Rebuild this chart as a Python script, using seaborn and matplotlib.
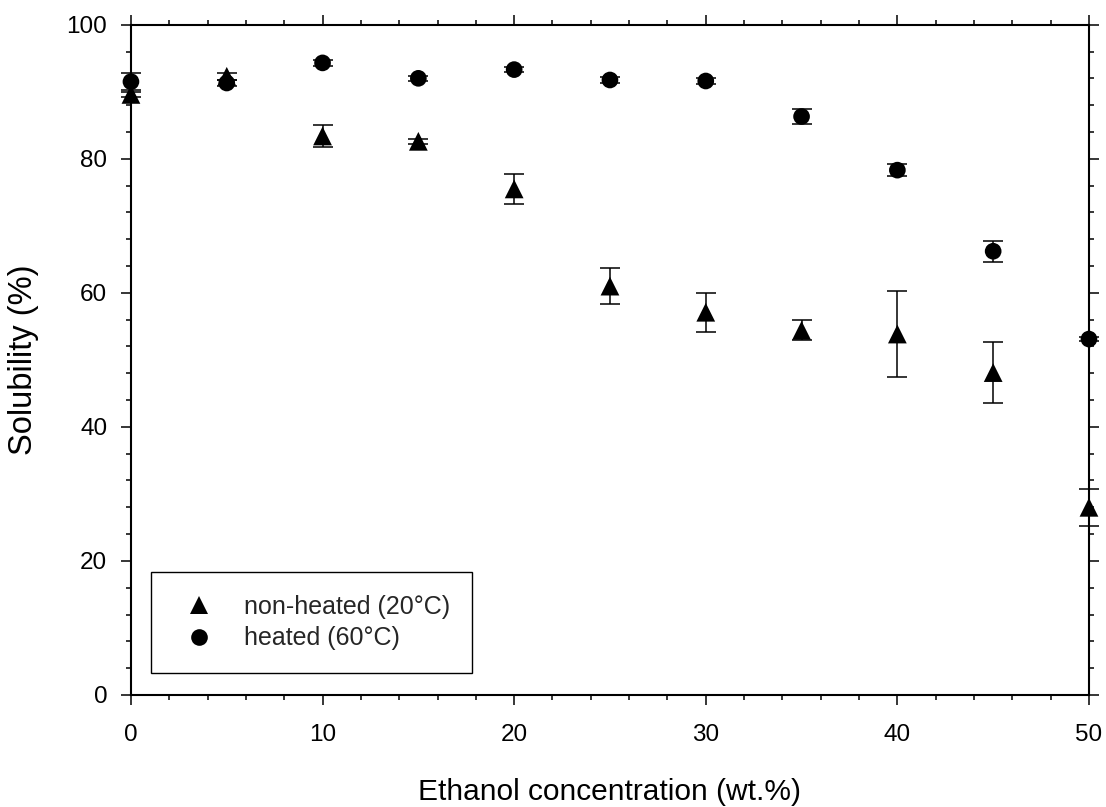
import matplotlib
matplotlib.use("Agg")
import matplotlib.pyplot as plt
from matplotlib.ticker import MultipleLocator
from matplotlib.lines import Line2D
import seaborn as sns
import pandas as pd

# ---- data ----
conc = [0, 5, 10, 15, 20, 25, 30, 35, 40, 45, 50]
nonheated = [89.6, 92.3, 83.4, 82.6, 75.5, 61.0, 57.1, 54.4, 53.85, 48.1, 28.0]
nonheated_err = [0.4, 0.5, 1.6, 0.4, 2.2, 2.7, 2.9, 1.5, 6.35, 4.6, 2.8]
heated = [91.5, 91.3, 94.3, 92.0, 93.3, 91.75, 91.6, 86.3, 78.3, 66.2, 53.1]
heated_err = [1.3, 0.5, 0.4, 0.4, 0.4, 0.4, 0.4, 1.1, 0.9, 1.6, 0.3]
labels = ["non-heated (20°C)", "heated (60°C)"]
xlabel = "Ethanol concentration (wt.%)"
ylabel = "Solubility (%)"
xticks = [0, 10, 20, 30, 40, 50]
yticks = [0, 20, 40, 60, 80, 100]

sns.set_theme(style="ticks")
plt.rcParams["font.family"] = ["Liberation Sans", "DejaVu Sans"]

df_nh = pd.DataFrame({"x": conc, "y": nonheated})
df_h = pd.DataFrame({"x": conc, "y": heated})

fig = plt.figure(figsize=(11.06, 8.07), dpi=100)
ax = fig.add_axes([0.1184, 0.1388, 0.8662, 0.8306])

# error bars
ax.errorbar(conc, nonheated, yerr=nonheated_err, fmt="none", ecolor="black",
            elinewidth=1.1, capsize=7, capthick=1.1, clip_on=False, zorder=2)
ax.errorbar(conc, heated, yerr=heated_err, fmt="none", ecolor="black",
            elinewidth=1.1, capsize=7, capthick=1.1, clip_on=False, zorder=2)

# markers
sns.scatterplot(data=df_nh, x="x", y="y", marker="^", s=13.5**2, color="black",
                edgecolor="none", linewidth=0, ax=ax, clip_on=False, zorder=3, legend=False)
sns.scatterplot(data=df_h, x="x", y="y", marker="o", s=12**2, color="black",
                edgecolor="none", linewidth=0, ax=ax, clip_on=False, zorder=3, legend=False)

ax.set_xlim(0, 50)
ax.set_ylim(0, 100)
ax.set_xticks(xticks)
ax.set_yticks(yticks)
ax.xaxis.set_minor_locator(MultipleLocator(2))
ax.yaxis.set_minor_locator(MultipleLocator(4))

for s in ax.spines.values():
    s.set_visible(True)
    s.set_linewidth(1.5)
    s.set_color("black")

ax.tick_params(axis="both", which="major", direction="out", length=7, width=1.1,
               color="black", labelsize=17.5, labelcolor="black",
               top=True, right=True, labeltop=False, labelright=False)
ax.tick_params(axis="both", which="minor", direction="out", length=3.8, width=1.1,
               color="black", top=True, right=True)
ax.tick_params(axis="x", which="major", pad=14)
ax.tick_params(axis="y", which="major", pad=10)

ax.set_xlabel(xlabel, fontsize=21.5, labelpad=23, color="black")
ax.set_ylabel(ylabel, fontsize=23.5, labelpad=20, color="black")

handles = [
    Line2D([], [], linestyle="none", marker="^", markersize=13, color="black", markeredgewidth=0),
    Line2D([], [], linestyle="none", marker="o", markersize=12, color="black", markeredgewidth=0),
]
leg = ax.legend(handles, labels, loc="lower left", bbox_to_anchor=(0.0206, 0.033, 0.335, 0.153),
                mode="expand", borderaxespad=0, fontsize=18, frameon=True, fancybox=False,
                edgecolor="black", framealpha=1, borderpad=0.9, labelspacing=0.3,
                handlelength=2.1, handletextpad=0.75)
leg.get_frame().set_linewidth(1.0)

fig.savefig("out.png", dpi=100, facecolor="white")
